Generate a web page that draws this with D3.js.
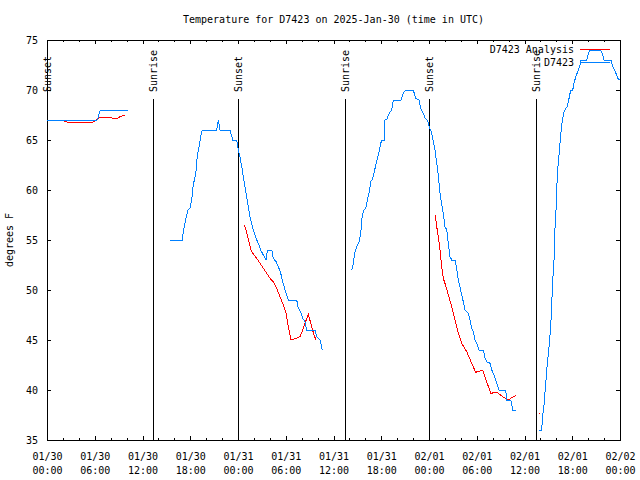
<!DOCTYPE html>
<html><head><meta charset="utf-8">
<script src="https://cdn.jsdelivr.net/npm/d3@7"></script>
<style>
body{margin:0;background:#fff}
svg{display:block}
text{font-family:'DejaVu Sans Mono',monospace;font-size:10px;fill:#000}
</style>
</head><body><svg id="c" width="640" height="480"></svg>
<script>
const title = "Temperature for D7423 on 2025-Jan-30 (time in UTC)";
const yLabel = "degrees F";
const seriesNames = ["D7423 Analysis", "D7423"];
const seriesColors = ["#ff0000", "#0080ff"];
const yTicks = [35, 40, 45, 50, 55, 60, 65, 70, 75];
const eventHours = [0, 13.35, 24.03, 37.45, 48.12, 61.5];
const eventLabels = ["Sunset", "Sunrise", "Sunset", "Sunrise", "Sunset", "Sunrise"];

// Observations (hours since 2025-01-30 00:00 UTC), null = gap
const obsHours = [
  0, 6.3, 6.45, 6.6, 6.75, 10.2, null,
  15.46, 17.0, 17.13, 17.34, 17.55, 17.76, 17.97, 18.18, 18.38, 18.6, 18.72, 18.89, 19.1, 19.31, 19.52, 21.32, 21.53, 21.74, 23.0, 23.34, 23.84, 24.04, 24.25, 24.47, 24.67, 24.88, 25.09, 25.29, 25.51, 25.72, 25.92, 26.26, 26.55, 26.85, 27.18, 27.52, 27.68, 28.24, 28.44, 28.78, 29.07, 29.37, 29.62, 29.91, 30.32, 31.38, 31.58, 31.88, 32.13, 32.42, 32.63, 33.68, 33.89, 34.31, 34.59, null,
  38.29, 38.49, 38.7, 38.92, 39.21, 39.42, 39.62, 39.83, 40.05, 40.25, 40.46, 40.68, 40.88, 41.09, 41.31, 41.51, 41.72, 41.93, 42.13, 42.39, 42.47, 42.69, 43.01, 43.32, 43.52, 44.48, 44.77, 45.07, 46.03, 46.33, 46.75, 46.96, 47.29, 47.5, 47.79, 48.04, 48.34, 48.54, 48.76, 48.97, 49.17, 49.38, 49.6, 49.8, 50.01, 50.23, 50.43, 50.64, 50.86, 51.27, 51.48, 51.68, 51.9, 52.11, 52.31, 52.53, 52.94, 53.15, 53.37, 53.57, 53.78, 54.0, 54.29, 54.83, 55.04, 55.25, 55.67, 55.88, 56.08, 56.3, 56.51, 56.8, 57.64, 57.77, 58.27, 58.52, 58.9, null,
  61.83, 62.16, 62.29, 62.45, 62.67, 62.87, 63.08, 63.3, 63.42, 63.55, 63.71, 63.84, 63.96, 64.13, 64.34, 64.55, 64.75, 64.97, 65.18, 65.38, 65.6, 65.81, 66.06, 66.22, 66.44, 66.69, 66.85, 67.06, 67.1, 67.82, 68.02, 68.23, 69.58, 69.83, 69.99, 70.87, 71.09, 71.29, 71.59, 71.79, 72.0
];
const obsTemps = [
  67, 67, 67.33, 67.85, 68, 68, null,
  55, 55, 55.8, 56.67, 57.5, 58.07, 58.17, 59, 60.5, 61.33, 61.83, 63.5, 64.33, 65.33, 66, 66, 67, 66, 66, 65, 65, 64, 63.33, 62.33, 61.33, 60.33, 59.33, 58.33, 57.33, 56.67, 56, 55.17, 54.67, 54, 53.5, 53, 53.93, 54, 53.17, 52.83, 52.33, 51.67, 50.83, 50, 49, 49, 48.17, 47.83, 47.17, 46.83, 46, 46, 45.33, 45, 44, null,
  52, 52.67, 53.83, 54.33, 54.83, 55.67, 57.5, 58, 58.17, 59, 59.67, 60.83, 61.07, 61.67, 62.5, 63.17, 63.83, 64.67, 65, 65, 67, 67.07, 67.67, 68, 69, 69, 69.67, 70, 70, 69.17, 69, 68.17, 67.67, 67.17, 67, 66.33, 65.67, 64.83, 64, 62.67, 61.5, 59.67, 58.5, 57.67, 56.33, 56, 54.67, 53.33, 53, 53, 52.17, 51, 50.33, 49.5, 48.83, 48, 47.67, 47, 46.17, 45.83, 45, 44.67, 44, 44, 43.17, 42.83, 42.67, 42, 41.67, 41.17, 40.67, 40, 40, 39, 39, 38, 38, null,
  36, 36, 37.5, 38.5, 40.67, 42.67, 44.33, 46.33, 48.67, 51, 53, 56.33, 58, 61.67, 63.5, 65.5, 67, 67.83, 68.17, 68.33, 69.17, 70, 70, 70.67, 71.33, 71.83, 72.17, 72.73, 73, 73, 73.67, 74, 74, 73.5, 73, 73, 72.33, 72, 71.5, 71.07, 71
];

// Analysis
const anaHours = [
  1.85, 2.05, 2.48, 5.74, 6.03, 6.32, 6.57, 7.29, 8.0, 8.26, 8.83, 9.17, 9.59, 9.8, null,
  24.79, 25.01, 25.22, 25.42, 25.63, 25.92, 26.35, 26.77, 27.18, 27.61, 28.02, 28.44, 28.86, 29.28, 29.69, 30.03, 30.32, 30.66, 31.38, 31.79, 32.13, 32.42, 32.84, 33.26, 33.55, 33.8, null,
  48.79, 48.97, 49.17, 49.38, 49.6, 49.8, 50.14, 50.43, 50.86, 51.27, 51.69, 52.11, 52.74, 53.37, 53.87, 54.75, 55.25, 55.76, 56.51, 57.26, 57.97, 58.27, 58.9, null,
  61.83
];
const anaTemps = [
  67, 66.93, 66.8, 66.8, 66.93, 67.07, 67.2, 67.27, 67.27, 67.17, 67.17, 67.33, 67.47, 67.5, null,
  56.5, 56, 55.33, 54.67, 54, 53.6, 53.17, 52.67, 52.17, 51.67, 51.17, 50.83, 50.17, 49.33, 48.5, 47.67, 46.33, 45, 45.17, 45.33, 46, 46.67, 47.57, 46.33, 45.5, 45, null,
  57.5, 56.33, 55.33, 54, 52.33, 51.17, 50.33, 49.5, 48.33, 47, 45.67, 44.67, 43.83, 42.67, 41.77, 42, 40.83, 39.67, 39.77, 39.33, 39, 39.17, 39.43, null,
  37.67
];

const t0 = Date.UTC(2025, 0, 30);
const toDate = h => new Date(t0 + h * 3600000);
const svg = d3.select("#c");
const L = 47, R = 620, T = 40, B = 440;
const x = d3.scaleUtc().domain([toDate(0), toDate(72)]).range([L, R]);
const y = d3.scaleLinear().domain([35, 75]).range([B, T]);
const fmtD = d3.utcFormat("%m/%d"), fmtT = d3.utcFormat("%H:%M");

const noDomain = g => g.select(".domain").remove();

// minor ticks (2 h), bottom & top
svg.append("g").attr("transform", `translate(0,${B})`)
  .call(d3.axisBottom(x).ticks(d3.utcHour.every(2)).tickSizeInner(-2).tickSizeOuter(0).tickFormat(""))
  .call(noDomain);
svg.append("g").attr("transform", `translate(0,${T})`)
  .call(d3.axisTop(x).ticks(d3.utcHour.every(2)).tickSizeInner(-2).tickSizeOuter(0).tickFormat(""))
  .call(noDomain);
// major ticks (6 h)
const gx = svg.append("g").attr("transform", `translate(0,${B})`)
  .call(d3.axisBottom(x).ticks(d3.utcHour.every(6)).tickSizeInner(-4).tickSizeOuter(0).tickPadding(13))
  .call(noDomain);
gx.selectAll(".tick text").each(function(d) {
  const s = d3.select(this);
  s.text(null).attr("dy", null);
  s.append("tspan").attr("x", 0).attr("dy", "0.71em").text(fmtD(d));
  s.append("tspan").attr("x", 0).attr("dy", 14).text(fmtT(d));
});
svg.append("g").attr("transform", `translate(0,${T})`)
  .call(d3.axisTop(x).ticks(d3.utcHour.every(6)).tickSizeInner(-4).tickSizeOuter(0).tickFormat(""))
  .call(noDomain);
// y axes
svg.append("g").attr("transform", `translate(${L},0)`)
  .call(d3.axisLeft(y).tickValues(yTicks).tickSizeInner(-4).tickSizeOuter(0).tickPadding(9))
  .call(noDomain);
svg.append("g").attr("transform", `translate(${R},0)`)
  .call(d3.axisRight(y).tickValues(yTicks).tickSizeInner(-4).tickSizeOuter(0).tickFormat(""))
  .call(noDomain);
svg.selectAll(".tick line").attr("shape-rendering", "crispEdges");

// frame
svg.append("rect").attr("x", L).attr("y", T).attr("width", R - L).attr("height", B - T)
  .attr("fill", "none").attr("stroke", "#000").attr("shape-rendering", "crispEdges");

// titles
svg.append("text").attr("x", (L + R) / 2).attr("y", 23).attr("text-anchor", "middle").text(title);
svg.append("text").attr("transform", "translate(13,240) rotate(-90)").attr("text-anchor", "middle").text(yLabel);

// sunrise / sunset
const ev = svg.append("g");
eventHours.forEach((h, i) => {
  const xv = x(toDate(h));
  ev.append("line").attr("x1", xv).attr("x2", xv).attr("y1", 99).attr("y2", B)
    .attr("stroke", "#000").attr("shape-rendering", "crispEdges");
  ev.append("text").attr("transform", `translate(${xv},92) rotate(-90)`)
    .attr("dy", "0.35em").attr("text-anchor", "start").text(eventLabels[i]);
});

// series
const line = d3.line().defined(d => d[1] != null).x(d => x(toDate(d[0]))).y(d => y(d[1]));
function drawSeries(hours, temps, color) {
  const pts = hours.map((h, i) => [h, temps[i]]);
  svg.append("path").datum(pts).attr("d", line).attr("fill", "none")
    .attr("stroke", color).attr("stroke-width", 1).attr("shape-rendering", "crispEdges");
  pts.forEach((p, i) => {
    if (p[1] == null) return;
    const prev = i > 0 ? pts[i - 1][1] : null, next = i < pts.length - 1 ? pts[i + 1][1] : null;
    if (prev == null && next == null) {
      svg.append("rect").attr("x", Math.round(x(toDate(p[0])))).attr("y", Math.round(y(p[1])))
        .attr("width", 1).attr("height", 1).attr("fill", color);
    }
  });
}
drawSeries(anaHours, anaTemps, seriesColors[0]);
drawSeries(obsHours, obsTemps, seriesColors[1]);

// legend
const lg = svg.append("g");
seriesNames.forEach((n, i) => {
  const ly = 49 + i * 13;
  lg.append("text").attr("x", 574).attr("y", ly).attr("dy", "0.35em").attr("text-anchor", "end").text(n);
  lg.append("line").attr("x1", 580).attr("x2", 610).attr("y1", ly).attr("y2", ly)
    .attr("stroke", seriesColors[i]).attr("shape-rendering", "crispEdges");
});
</script>
</body></html>
